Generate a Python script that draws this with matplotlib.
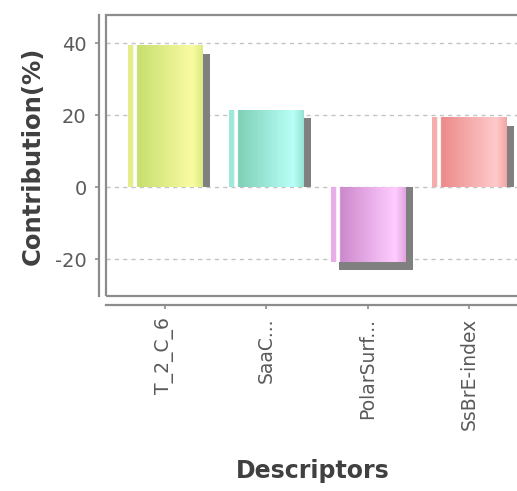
import numpy as np
import matplotlib
matplotlib.use("Agg")
import matplotlib.pyplot as plt
from matplotlib.colors import to_rgb
from matplotlib.patches import Rectangle

plt.rcParams["axes.unicode_minus"] = False

# datos del grafico
descriptores = ["T_2_C_6", "SaaC...", "PolarSurf...", "SsBrE-index"]
contribucion = [39.4, 21.4, -20.8, 19.2]

# colores (oscuro, claro) de cada barra
col_oscuro = ["#c6df6e", "#7fd0b6", "#cc88cc", "#ec8a8a"]
col_claro = ["#fbfba2", "#b8fff8", "#ffcdff", "#ffcaca"]

ancho = 0.73
dx, dy = 0.08, 2.3  # desplazamiento de la sombra
gris = "#8c8c8c"


def gradiente(c1, c2, n=200):
    a = np.array(to_rgb(c1))
    b = np.array(to_rgb(c2))
    t = np.linspace(0, 1, n)
    fila = np.zeros((n, 3))
    for i, u in enumerate(t):
        if u < 0.07:
            fila[i] = a * 0.45 + b * 0.55
        elif u < 0.12:
            fila[i] = np.array([1, 1, 1])
        elif u < 0.86:
            k = (u - 0.12) / 0.74
            fila[i] = a * (1 - k) + b * k
        else:
            k = (u - 0.86) / 0.14
            fila[i] = b * (1 - k * 0.6) + a * (k * 0.6)
    return fila[np.newaxis, :, :]


fig = plt.figure(figsize=(5.17, 4.91), dpi=100)
ax = fig.add_axes([0.205, 0.397, 0.80, 0.572])

x = np.arange(len(descriptores))

# sombras
ax.bar(x + dx, np.array(contribucion) - dy, ancho, color="#808080", zorder=2)
# barras (base) y gradiente encima
barras = ax.bar(x, contribucion, ancho, color=col_oscuro, zorder=3)
for b, c1, c2 in zip(barras, col_oscuro, col_claro):
    x0 = b.get_x()
    y0 = b.get_y()
    h = b.get_height()
    ax.imshow(gradiente(c1, c2), extent=(x0, x0 + b.get_width(), y0, y0 + h),
              aspect="auto", zorder=4, interpolation="bilinear")

ax.set_xlim(-0.58, 3.5)
ax.set_ylim(-30.3, 47.8)
ax.set_yticks([-20, 0, 20, 40])
ax.set_xticks(x)
ax.set_xticklabels(descriptores)

ax.yaxis.grid(True, color="#c4c4c4", linestyle=(0, (3, 3)), linewidth=1)
ax.set_axisbelow(True)

for lado in ["top", "right"]:
    ax.spines[lado].set_visible(False)
ax.spines["left"].set_position(("outward", 5))
ax.spines["bottom"].set_position(("outward", 6.5))
for lado in ["left", "bottom"]:
    ax.spines[lado].set_color(gris)
    ax.spines[lado].set_linewidth(1.6)

ax.add_patch(Rectangle((0, 0), 1, 1, transform=ax.transAxes, fill=False,
                       edgecolor=gris, linewidth=1.6, clip_on=False, zorder=5))

ax.tick_params(axis="both", colors=gris, length=3, width=1.2, labelsize=14,
               labelcolor="#5a5a5a", pad=6)
ax.tick_params(axis="x", labelrotation=90, labelsize=13.5)

ax.set_ylabel("Contribution(%)", fontsize=17.5, fontweight="bold", color="#404040", labelpad=7)
ax.set_xlabel("Descriptors", fontsize=17, fontweight="bold", color="#404040", labelpad=21)

fig.savefig("out.png", dpi=100)
